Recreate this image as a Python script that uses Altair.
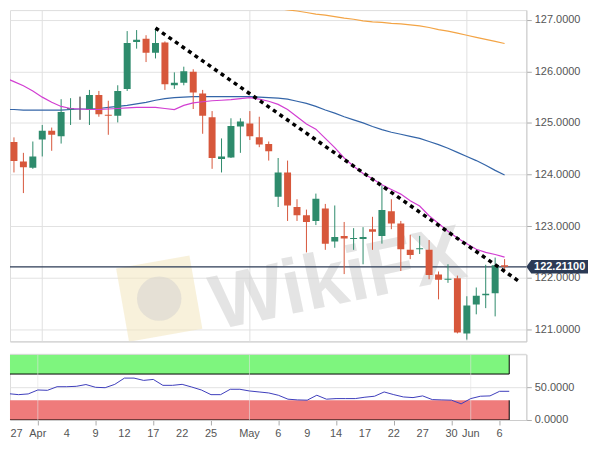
import altair as alt
import pandas as pd

# ---------------- data ----------------
day_index = list(range(54))  # trading days 26 Mar 2019 .. 7 Jun 2019
opens = [124.39, 124.63, 124.25, 124.13, 124.68, 124.85, 124.74, 125.26, 125.27, 125.25,
         125.54, 125.16, 125.14, 125.66, 126.57, 126.63, 126.36, 126.56, 125.73, 125.78,
         125.99, 125.57, 125.11, 124.30, 124.33, 124.93, 124.99, 124.72, 124.59, 123.57,
         124.04, 123.37, 123.21, 123.10, 123.34, 122.70, 122.81, 122.75, 122.75, 122.94,
         122.81, 123.29, 123.05, 122.54, 122.55, 122.54, 122.06, 121.96, 121.99, 120.92,
         121.48, 121.66, 121.70, 122.24]
highs = [124.75, 124.72, 124.42, 124.64, 124.96, 124.91, 125.46, 125.48, 125.51, 125.64,
         125.62, 125.43, 125.73, 126.78, 126.80, 126.70, 126.84, 126.58, 125.98, 126.09,
         126.04, 125.64, 125.23, 124.70, 125.09, 125.09, 125.23, 125.12, 124.64, 124.32,
         124.27, 123.52, 123.32, 123.63, 123.43, 123.40, 123.08, 122.96, 122.98, 123.18,
         123.79, 123.52, 123.10, 122.83, 122.81, 122.73, 122.12, 122.26, 122.04, 121.64,
         121.81, 122.25, 122.39, 122.36]
lows = [124.30, 124.04, 123.64, 124.11, 124.35, 124.46, 124.60, 124.96, 125.06, 124.96,
        125.12, 124.77, 125.01, 125.62, 126.44, 126.18, 126.25, 125.64, 125.66, 125.73,
        125.27, 124.79, 124.11, 124.04, 124.32, 124.42, 124.67, 124.53, 124.27, 123.37,
        123.10, 123.10, 122.49, 123.02, 122.54, 122.58, 122.07, 122.54, 122.26, 122.54,
        122.66, 122.94, 122.13, 122.36, 122.46, 121.97, 121.58, 121.90, 120.92, 120.80,
        121.29, 121.41, 121.25, 122.12]
closes = [124.64, 124.26, 124.14, 124.35, 124.85, 124.77, 125.21, 125.29, 125.27, 125.54,
          125.17, 125.14, 125.62, 126.55, 126.61, 126.36, 126.55, 125.75, 125.78, 126.00,
          125.59, 125.14, 124.32, 124.35, 124.94, 125.03, 124.74, 124.58, 124.45, 124.04,
          123.40, 123.21, 123.08, 123.53, 122.66, 122.79, 122.76, 122.77, 122.79, 122.89,
          123.31, 123.05, 122.55, 122.44, 122.57, 122.05, 121.96, 121.98, 120.94, 121.46,
          121.65, 121.69, 122.24, 122.211]
ma_blue = [125.26, 125.26, 125.25, 125.25, 125.25, 125.25, 125.25, 125.26, 125.27, 125.27,
           125.28, 125.30, 125.32, 125.34, 125.37, 125.40, 125.44, 125.47, 125.49, 125.50,
           125.51, 125.51, 125.51, 125.51, 125.51, 125.51, 125.51, 125.50, 125.49, 125.48,
           125.46, 125.42, 125.38, 125.32, 125.25, 125.19, 125.12, 125.06, 125.00, 124.93,
           124.87, 124.82, 124.78, 124.74, 124.70, 124.64, 124.58, 124.51, 124.43, 124.35,
           124.27, 124.18, 124.08, 123.99]
ma_magenta = [125.88, 125.80, 125.72, 125.62, 125.50, 125.40, 125.32, 125.28, 125.27, 125.26,
              125.26, 125.27, 125.28, 125.29, 125.30, 125.30, 125.30, 125.28, 125.26, 125.34,
              125.39, 125.41, 125.43, 125.44, 125.45, 125.47, 125.49, 125.46, 125.42, 125.36,
              125.26, 125.12, 124.98, 124.88, 124.70, 124.52, 124.32, 124.16, 124.02, 123.92,
              123.80, 123.71, 123.62, 123.49, 123.39, 123.20, 123.05, 122.90, 122.77, 122.66,
              122.55, 122.49, 122.45, 122.40]
orange_index = list(range(23, 54))
ma_orange = [127.38, 127.35, 127.33, 127.31, 127.28, 127.25, 127.22, 127.19, 127.17, 127.14,
             127.11, 127.09, 127.06, 127.03, 127.01, 126.98, 126.96, 126.95, 126.93, 126.92,
             126.90, 126.88, 126.85, 126.81, 126.78, 126.74, 126.70, 126.66, 126.62, 126.58,
             126.54]
rsi = [41.9, 40.0, 38.6, 39.7, 45.7, 45.2, 50.7, 50.7, 51.3, 54.0,
       49.8, 49.2, 54.3, 63.8, 63.8, 60.3, 61.8, 52.8, 52.8, 54.3,
       50.2, 45.7, 38.6, 38.6, 46.8, 46.8, 44.2, 42.7, 41.2, 37.7,
       31.7, 30.6, 30.2, 37.7, 31.7, 32.6, 32.6, 32.6, 34.7, 36.2,
       42.7, 38.6, 35.1, 34.1, 36.7, 31.1, 30.6, 30.2, 24.6, 32.6,
       36.2, 36.7, 43.7, 43.7]

tick_index = [1, 4, 7, 10, 13, 16, 19, 22, 26, 29, 32, 35, 38, 41, 44, 47, 49, 52]
tick_labels = ["27", "Apr", "4", "9", "12", "17", "22", "25", "May", "6", "9",
               "14", "17", "22", "27", "30", "Jun", "6"]
month_index = [4, 26, 49]
price_ticks = [121, 122, 123, 124, 125, 126, 127]
rsi_ticks = [0, 50]
trend_index = [16, 54.6]
trend_value = [126.84, 121.92]
last_price = 122.211
band_low = [70, 0]
band_high = [100, 30]
band_fill = ["#7ef57e", "#ef7b7b"]
band_start = -1
band_end = 53

# ---------------- frames ----------------
X_LO, X_HI = 1.1065, 54.778
df = pd.DataFrame({"i": day_index, "open": opens, "high": highs, "low": lows,
                   "close": closes, "blue": ma_blue, "magenta": ma_magenta, "rsi": rsi})
df["dir"] = ["up" if c > o else ("down" if c < o else "flat") for o, c in zip(opens, closes)]
orange_df = pd.DataFrame({"i": orange_index, "v": ma_orange})
months_df = pd.DataFrame({"i": month_index})
trend_df = pd.DataFrame({"i": trend_index, "v": trend_value})
last_df = pd.DataFrame({"p": [last_price], "label": [f"{last_price:.5f}"]})
ticks_df = pd.DataFrame({"i": tick_index, "label": tick_labels})
ticks_in = ticks_df[ticks_df["i"] >= X_LO + 0.5]
ticks_edge = ticks_df[ticks_df["i"] < X_LO + 0.5]
bands_df = pd.DataFrame({"x1": [band_start] * 2, "x2": [band_end] * 2,
                         "lo": band_low, "hi": band_high, "fill": band_fill})
edge_rows = []
for lo, hi in zip(band_low, band_high):
    edge_rows.append({"x1": band_start, "x2": band_end, "y1": lo, "y2": lo})
    edge_rows.append({"x1": band_end, "x2": band_end, "y1": lo, "y2": hi})
edges_df = pd.DataFrame(edge_rows)

FONT = "Liberation Sans"
GREEN, RED, FLAT = "#2e8b6c", "#d7573b", "#111111"

xs = alt.Scale(domain=[X_LO, X_HI], nice=False, zero=False)
ys = alt.Scale(domain=[120.765, 127.187], nice=False, zero=False)
xs2 = alt.Scale(domain=[X_LO, X_HI], nice=False, zero=False)
ys2 = alt.Scale(domain=[0, 100], nice=False, zero=False)

main_x_axis = alt.Axis(labels=False, ticks=False, grid=False, domain=True,
                       domainColor="#cccccc", title=None)
main_y_axis = alt.Axis(orient="right", values=price_ticks, format=".4f", labelFontSize=11,
                       labelColor="#555555", labelFont=FONT, tickSize=5, tickColor="#aaaaaa",
                       domainColor="#cccccc", gridColor="#e2e2e2", labelPadding=3, title=None)
dir_color = alt.Color("dir:N", scale=alt.Scale(domain=["up", "down", "flat"],
                                               range=[GREEN, RED, FLAT]), legend=None)

month_rules = alt.Chart(months_df).mark_rule(color="#e0e0e0", strokeWidth=1).encode(
    x=alt.X("i:Q", scale=xs, axis=main_x_axis))

wm_square = alt.Chart(last_df).mark_point(shape="square", filled=True, size=5600,
                                          color="#f2e6bd", opacity=0.55, angle=350,
                                          clip=True).encode(
    x=alt.value(150), y=alt.value(290))
wm_circle = alt.Chart(last_df).mark_circle(size=2000, color="#d9d6d0", opacity=0.6,
                                           clip=True).encode(
    x=alt.value(150), y=alt.value(290))
wm_text = alt.Chart(last_df).mark_text(text="WikiFX", fontSize=78, fontWeight="bold",
                                       font=FONT, color="#d3d3d3", opacity=0.6,
                                       angle=348, align="center", baseline="middle",
                                       clip=True).encode(
    x=alt.value(330), y=alt.value(272))

blue_line = alt.Chart(df).mark_line(color="#3465a8", strokeWidth=1.2, clip=True).encode(
    x=alt.X("i:Q", scale=xs), y=alt.Y("blue:Q", scale=ys, axis=main_y_axis))
magenta_line = alt.Chart(df).mark_line(color="#d23fd2", strokeWidth=1.2, clip=True).encode(
    x=alt.X("i:Q", scale=xs), y=alt.Y("magenta:Q", scale=ys))
orange_line = alt.Chart(orange_df).mark_line(color="#f3a445", strokeWidth=1.2, clip=True).encode(
    x=alt.X("i:Q", scale=xs), y=alt.Y("v:Q", scale=ys))

price_rule = alt.Chart(last_df).mark_rule(color="#2b3a55", strokeWidth=1.2).encode(
    y=alt.Y("p:Q", scale=ys))

wicks = alt.Chart(df).mark_rule(strokeWidth=1, clip=True).encode(
    x=alt.X("i:Q", scale=xs), y=alt.Y("low:Q", scale=ys), y2="high:Q", color=dir_color)
bodies = alt.Chart(df).mark_bar(width=7, clip=True).encode(
    x=alt.X("i:Q", scale=xs), y=alt.Y("open:Q", scale=ys), y2="close:Q", color=dir_color)

trend = alt.Chart(trend_df).mark_line(color="black", strokeWidth=3.5, strokeDash=[4, 4],
                                      clip=True).encode(
    x=alt.X("i:Q", scale=xs), y=alt.Y("v:Q", scale=ys))

tag_path = "M-1,0L-0.84,-0.22L1,-0.22L1,0.22L-0.84,0.22Z"
tag = alt.Chart(last_df).mark_point(shape=tag_path, filled=True, size=3844, color="#2b3a55",
                                    opacity=1, strokeWidth=0).encode(
    x=alt.value(550), y=alt.Y("p:Q", scale=ys))
tag_text = alt.Chart(last_df).mark_text(color="white", fontSize=11, fontWeight="bold",
                                        font=FONT, align="center", baseline="middle").encode(
    x=alt.value(552.5), y=alt.Y("p:Q", scale=ys), text="label:N")

main = alt.layer(month_rules, wm_square, wm_circle, wm_text, blue_line, orange_line,
                 price_rule, wicks, bodies, magenta_line, trend, tag, tag_text).properties(
    width=519, height=333)

# ---------------- RSI panel ----------------
low_x_axis = alt.Axis(values=tick_index, labels=False, grid=False, tickSize=5,
                      tickColor="#aaaaaa", domainColor="#cccccc", title=None)
low_y_axis = alt.Axis(orient="right", values=rsi_ticks, format=".4f", labelFontSize=11,
                      labelColor="#555555", labelFont=FONT, tickSize=5, tickColor="#aaaaaa",
                      domainColor="#cccccc", gridColor="#e2e2e2", labelPadding=3, title=None)

bands = alt.Chart(bands_df).mark_rect(clip=True).encode(
    x=alt.X("x1:Q", scale=xs2, axis=low_x_axis), x2="x2:Q",
    y=alt.Y("lo:Q", scale=ys2, axis=low_y_axis), y2="hi:Q",
    color=alt.Color("fill:N", scale=None))
band_edges = alt.Chart(edges_df).mark_rule(color="black", strokeWidth=1, clip=True).encode(
    x=alt.X("x1:Q", scale=xs2), x2="x2:Q", y=alt.Y("y1:Q", scale=ys2), y2="y2:Q")
low_months = alt.Chart(months_df).mark_rule(color="#e0e0e0", strokeWidth=1, opacity=0.6).encode(
    x=alt.X("i:Q", scale=xs2))
top_line = alt.Chart(last_df).mark_rule(color="#d8d8d8").encode(y=alt.datum(100, scale=ys2))
rsi_line = alt.Chart(df).mark_line(color="#3d3dbb", strokeWidth=1, clip=True).encode(
    x=alt.X("i:Q", scale=xs2), y=alt.Y("rsi:Q", scale=ys2))
tick_text = alt.Chart(ticks_in).mark_text(fontSize=11, font=FONT, color="#555555",
                                          align="center", baseline="middle").encode(
    x=alt.X("i:Q", scale=xs2), y=alt.value(80), text="label:N")
tick_text_edge = alt.Chart(ticks_edge).mark_text(fontSize=11, font=FONT, color="#555555",
                                                 align="left", baseline="middle", dx=1.5).encode(
    x=alt.X("i:Q", scale=xs2), y=alt.value(80), text="label:N")

lower = alt.layer(bands, band_edges, low_months, top_line, rsi_line, tick_text,
                  tick_text_edge).properties(width=519, height=66)

chart = alt.vconcat(main, lower, spacing=11).resolve_scale(
    x="independent", y="independent").properties(
    padding={"left": 0, "top": 0, "right": 2, "bottom": 2},
    background="white").configure_view(fill="#f4f4f4", stroke=None).configure(font=FONT)

chart.save("out.html", embed_options={"renderer": "svg", "actions": False})
